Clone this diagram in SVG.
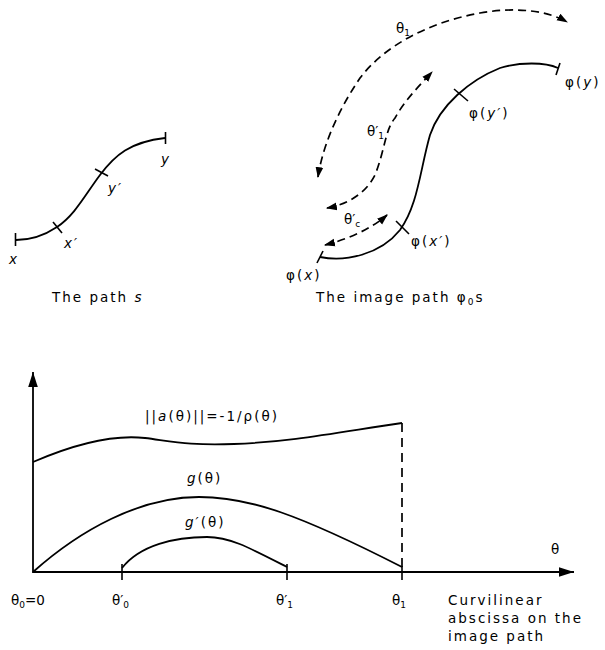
<svg xmlns="http://www.w3.org/2000/svg" width="605" height="650" viewBox="0 0 605 650">
<defs>
<marker id="ah" viewBox="0 0 10 10" refX="9" refY="5" markerWidth="11" markerHeight="11" markerUnits="userSpaceOnUse" orient="auto-start-reverse">
<path d="M0,1.5 L10,5 L0,8.5 Z" fill="#000"/>
</marker>
<marker id="axh" viewBox="0 0 10 10" refX="10" refY="5" markerWidth="15" markerHeight="15" markerUnits="userSpaceOnUse" orient="auto">
<path d="M0,1.8 L10,5 L0,8.2 Z" fill="#000"/>
</marker>
</defs>
<style>
.c{fill:none;stroke:#000;stroke-width:1.8}
.d{fill:none;stroke:#000;stroke-width:1.7;stroke-dasharray:8,5}
.t{fill:none;stroke:#000;stroke-width:1.6}
text{font-family:"DejaVu Sans","Liberation Sans",sans-serif;font-size:13.5px;fill:#000}
.i{font-style:italic}
.s{font-size:9px}
.w{letter-spacing:2px}
</style>
<rect width="605" height="650" fill="#fff"/>

<g id="path-s">
<path class="c" d="M16,240 C30,240 45,235 57,227 C75,215 85,195 100,175 C115,155 130,142 165,138"/>
<line class="t" x1="15.5" y1="233" x2="15.5" y2="246"/>
<line class="t" x1="165.5" y1="132" x2="165.5" y2="144"/>
<line class="t" x1="53" y1="222" x2="62" y2="233"/>
<line class="t" x1="95" y1="169" x2="108" y2="176"/>
<text class="i" x="9" y="264">x</text>
<text class="i w" x="64" y="248">x′</text>
<text class="i w" x="108" y="193">y′</text>
<text class="i" x="161" y="164">y</text>
</g>

<g id="image-path">
<path class="c" d="M320,257 C345,262 380,255 400,230 C418,205 420,170 430,135 C440,105 470,80 500,68 C520,62 545,62 558,68"/>
<line class="t" x1="317" y1="263" x2="323" y2="251"/>
<line class="t" x1="556" y1="75" x2="560" y2="63"/>
<line class="t" x1="396" y1="221" x2="409" y2="234"/>
<line class="t" x1="454" y1="89" x2="468" y2="101"/>
<text class="w" x="565" y="87">φ(<tspan class="i">y</tspan>)</text>
<text class="w" x="469" y="118">φ(<tspan class="i">y′</tspan>)</text>
<text class="w" x="411" y="246">φ(<tspan class="i">x′</tspan>)</text>
<text class="w" x="286" y="280">φ(<tspan class="i">x</tspan>)</text>
</g>

<g id="arc-theta1">
<path class="d" d="M318,177 C322,150 335,115 360,78 C385,45 430,22 480,13 C520,6 550,12 567,22" marker-start="url(#ah)" marker-end="url(#ah)"/>
<text x="396" y="33">θ<tspan class="s" dy="3">1</tspan></text>
</g>
<g id="arc-theta1p">
<path class="d" d="M327,208 C345,205 365,195 375,175 C385,150 385,130 395,118 C405,100 420,85 432,72" marker-start="url(#ah)" marker-end="url(#ah)"/>
<text x="367" y="136">θ′<tspan class="s" dy="3">1</tspan></text>
</g>
<g id="arc-thetac">
<path class="d" d="M325,245 C345,240 370,230 387,215" marker-start="url(#ah)" marker-end="url(#ah)"/>
<text x="344" y="224">θ′<tspan class="s" dy="3">c</tspan></text>
</g>

<text class="w" x="52" y="302">The path <tspan class="i">s</tspan></text>
<text class="w" x="316" y="302">The image path φ<tspan class="s" dy="3">0</tspan><tspan dy="-3">s</tspan></text>

<g id="chart">
<line class="c" x1="33" y1="573" x2="33" y2="372" marker-end="url(#axh)"/>
<line class="c" x1="33" y1="572" x2="574" y2="572" marker-end="url(#axh)"/>
<path class="c" d="M33,462 C70,446 110,434 145,438 C170,441 190,446 234,444 C290,442 340,432 402,423"/>
<path class="c" d="M33,572 C80,530 140,497 199,497 C250,497 300,515 402,567"/>
<path class="c" d="M122,568 C140,545 175,537 207,537 C230,537 250,548 287,567"/>
<line class="d" x1="402" y1="423" x2="402" y2="572" style="stroke-dasharray:9,6"/>
<line class="t" x1="122" y1="564" x2="122" y2="580"/>
<line class="t" x1="287" y1="564" x2="287" y2="580"/>
<line class="t" x1="402" y1="566" x2="402" y2="580"/>
<text class="w" x="145" y="421">||<tspan class="i">a</tspan>(θ)||=-1/ρ(θ)</text>
<text class="w" x="187" y="483"><tspan class="i">g</tspan>(θ)</text>
<text class="w" x="185" y="527"><tspan class="i">g′</tspan>(θ)</text>
<text x="551" y="554">θ</text>
<text x="11" y="605">θ<tspan class="s" dy="3">0</tspan><tspan dy="-3">=0</tspan></text>
<text x="112" y="605">θ′<tspan class="s" dy="3">0</tspan></text>
<text x="276" y="605">θ′<tspan class="s" dy="3">1</tspan></text>
<text x="392" y="605">θ<tspan class="s" dy="3">1</tspan></text>
<text class="w" x="448" y="605">Curvilinear</text>
<text class="w" x="448" y="623">abscissa on the</text>
<text class="w" x="448" y="641">image path</text>
</g>
</svg>
